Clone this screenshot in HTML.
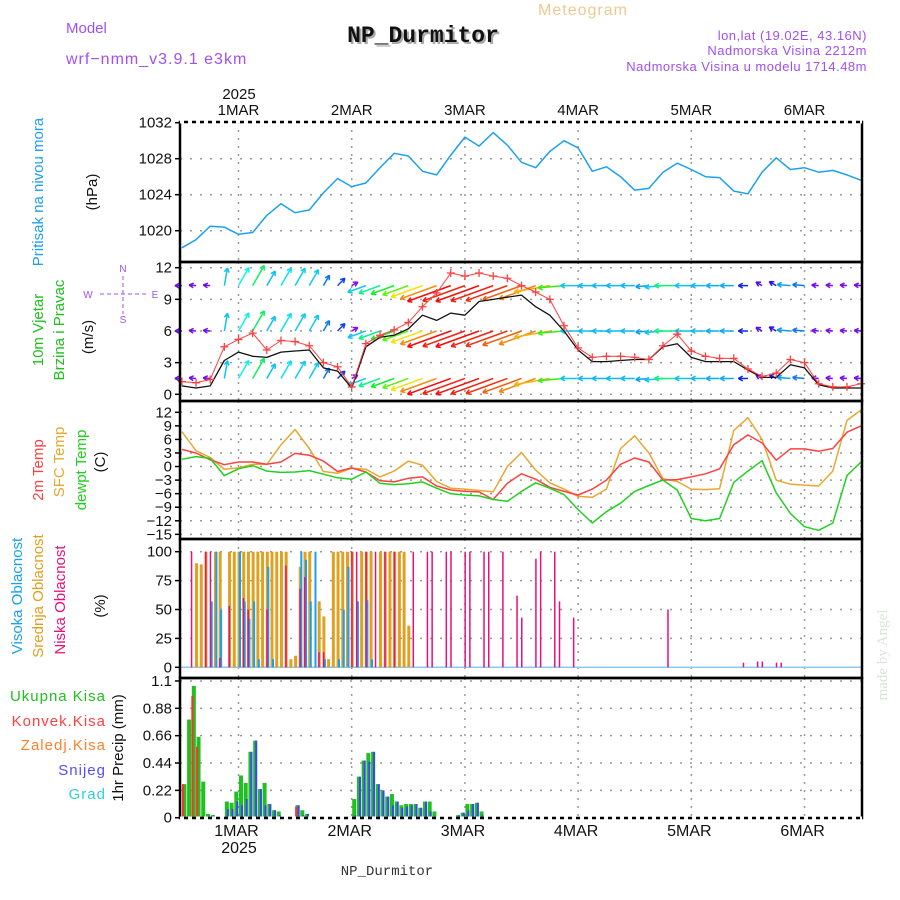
<!DOCTYPE html>
<html><head><meta charset="utf-8"><style>
html,body{margin:0;padding:0;background:#fff;}
svg{display:block;font-family:"Liberation Sans",sans-serif;}
</style></head><body>
<svg id="chart" width="900" height="900" viewBox="0 0 900 900" xmlns="http://www.w3.org/2000/svg">
<rect x="0" y="0" width="900" height="900" fill="#fff"/>
<text x="66" y="33" font-size="15" fill="#a050f0">Model</text>
<text x="66" y="64" font-size="16" fill="#a050f0" letter-spacing="1">wrf−nmm_v3.9.1 e3km</text>
<text x="425" y="44" font-size="23" font-weight="bold" font-family="Liberation Mono, monospace" fill="#aaa" text-anchor="middle">NP_Durmitor</text>
<text x="423" y="42" font-size="23" font-weight="bold" font-family="Liberation Mono, monospace" fill="#111" text-anchor="middle">NP_Durmitor</text>
<text x="583" y="15" font-size="16" fill="#f0c890" text-anchor="middle" letter-spacing="1">Meteogram</text>
<text x="867" y="40" font-size="13" fill="#a050f0" text-anchor="end" letter-spacing="0.5">lon,lat (19.02E, 43.16N)</text>
<text x="867" y="55" font-size="13" fill="#a050f0" text-anchor="end" letter-spacing="0.5">Nadmorska Visina 2212m</text>
<text x="867" y="71" font-size="13" fill="#a050f0" text-anchor="end" letter-spacing="0.5">Nadmorska Visina u modelu 1714.48m</text>
<text x="239" y="99" font-size="15" text-anchor="middle" fill="#111">2025</text>
<text x="239" y="853" font-size="16" text-anchor="middle" fill="#111">2025</text>
<text x="387" y="875" font-size="14" font-family="Liberation Mono, monospace" text-anchor="middle" fill="#333">NP_Durmitor</text>
<text transform="translate(887,655) rotate(-90)" font-size="15" font-family="Liberation Serif, serif" fill="#d8e4d8" text-anchor="middle">made by Angel</text>

<text transform="translate(43,192) rotate(-90)" font-size="15" fill="#1ea0f0" text-anchor="middle">Pritisak na nivou mora</text>
<text transform="translate(97,192) rotate(-90)" font-size="15" fill="#111" text-anchor="middle">(hPa)</text>
<text transform="translate(43,330) rotate(-90)" font-size="15" fill="#20c020" text-anchor="middle">10m Vjetar</text>
<text transform="translate(64,330) rotate(-90)" font-size="15" fill="#20c020" text-anchor="middle">Brzina i Pravac</text>
<text transform="translate(93,337) rotate(-90)" font-size="15" fill="#111" text-anchor="middle">(m/s)</text>
<g fill="#a050f0" font-size="10" text-anchor="middle">
<text x="123" y="272">N</text><text x="123" y="323">S</text><text x="88" y="298">W</text><text x="155" y="298">E</text>
<line x1="123" y1="276" x2="123" y2="314" stroke="#a050f0" stroke-dasharray="4,3"/>
<line x1="100" y1="294" x2="146" y2="294" stroke="#a050f0" stroke-dasharray="4,3"/>
</g>
<text transform="translate(43,470) rotate(-90)" font-size="15" fill="#ff4040" text-anchor="middle">2m Temp</text>
<text transform="translate(64,462) rotate(-90)" font-size="15" fill="#e8a830" text-anchor="middle">SFC Temp</text>
<text transform="translate(86,470) rotate(-90)" font-size="15" fill="#20d020" text-anchor="middle">dewpt Temp</text>
<text transform="translate(105,462) rotate(-90)" font-size="15" fill="#111" text-anchor="middle">(C)</text>
<text transform="translate(22,596) rotate(-90)" font-size="15" fill="#1a9ff0" text-anchor="middle">Visoka Oblacnost</text>
<text transform="translate(43,596) rotate(-90)" font-size="15" fill="#e0a020" text-anchor="middle">Srednja Oblacnost</text>
<text transform="translate(65,600) rotate(-90)" font-size="15" fill="#e8107a" text-anchor="middle">Niska Oblacnost</text>
<text transform="translate(105,606) rotate(-90)" font-size="15" fill="#111" text-anchor="middle">(%)</text>
<g font-size="15" text-anchor="end" letter-spacing="1">
<text x="106" y="701" fill="#20c020">Ukupna Kisa</text>
<text x="106" y="726" fill="#ff4040">Konvek.Kisa</text>
<text x="106" y="750" fill="#ff8030">Zaledj.Kisa</text>
<text x="106" y="775" fill="#5050ff">Snijeg</text>
<text x="106" y="799" fill="#30d0d0">Grad</text>
</g>
<text transform="translate(123,748) rotate(-90)" font-size="15" fill="#111" text-anchor="middle">1hr Precip (mm)</text>
<g id="plot"></g>
</svg>
<script>
// ---------- data ----------
const hours3 = [-12,-9,-6,-3,0,3,6,9,12,15,18,21,24,27,30,33,36,39,42,45,48,51,54,57,60,63,66,69,72,75,78,81,84,87,90,93,96,99,102,105,108,111,114,117,120,123,126,129,132];
const pressure = [1018.1,1019,1020.5,1020.4,1019.6,1019.8,1021.7,1023,1022,1022.3,1024.2,1025.8,1024.9,1025.3,1027,1028.6,1028.3,1026.6,1026.2,1028.4,1030.4,1029.4,1030.9,1029.5,1027.6,1027,1028.8,1030,1029.2,1026.6,1027.1,1026,1024.5,1024.7,1026.5,1027.5,1026.8,1026,1025.9,1024.4,1024.1,1026.5,1028.1,1026.8,1027,1026.5,1026.7,1026.2,1025.6];
const windSpeed = [1.2,1.1,1.4,4.5,5.2,5.8,4.2,5.1,5.0,4.6,3.0,2.6,0.7,4.8,5.6,6.1,6.8,8.3,9.6,11.5,11.2,11.5,11.2,11.0,10.3,9.7,9.0,6.5,4.4,3.5,3.6,3.6,3.5,3.3,4.6,5.7,4.1,3.6,3.4,3.4,2.4,1.7,2.0,3.3,3.0,1.0,0.7,0.7,1.0];
const windMean = [0.8,0.6,0.8,3.2,4.0,3.6,3.5,4.0,4.1,4.2,2.5,2.2,0.6,4.5,5.4,5.6,6.2,7.5,7.0,7.7,7.5,8.8,9.0,9.2,9.4,8.3,7.5,6.0,4.2,3.1,3.1,3.2,3.3,3.3,4.5,4.8,3.5,3.1,3.1,3.1,2.3,1.6,1.6,2.8,2.5,0.9,0.6,0.6,0.6];
const windDirTo = [270,275,275,10,30,30,30,30,30,30,30,45,60,250,250,250,250,250,250,250,250,250,250,250,250,250,260,265,270,270,270,270,270,265,265,270,270,270,270,270,270,300,300,275,275,275,275,275,275];
const temp2m = [3.8,3.0,1.5,0.4,1.0,1.0,0.5,1.0,2.9,2.5,1.2,-1.1,-0.3,-1.2,-3.1,-3.4,-2.6,-2.3,-4.3,-5.2,-5.5,-5.6,-7.3,-3.7,-1.6,-2.8,-4.6,-5.5,-6.3,-5.0,-3.0,0.5,1.9,1.0,-3.0,-2.9,-2.3,-1.6,-0.5,4.8,7.0,5.2,1.4,3.9,3.9,3.4,4.0,7.6,9.0];
const tempSfc = [7.7,3.5,2.0,-0.6,-0.3,0.5,0.5,4.8,8.2,4.0,-1.1,-1.5,-0.4,-0.6,-2.3,-1.0,1.2,0.3,-3.3,-4.8,-5.0,-5.3,-5.6,0.0,3.1,-0.8,-3.6,-5.0,-6.6,-6.8,-5.0,4.0,6.8,3.0,-2.7,-3.3,-5.0,-5.1,-4.9,8.0,10.8,6.0,-3.0,-3.9,-4.1,-4.3,-1.0,10.2,12.5];
const dewpoint = [1.6,2.2,1.8,-2.0,-0.5,0.2,-1.0,-1.3,-1.2,-0.9,-1.7,-2.5,-2.8,-1.2,-3.7,-4.0,-3.8,-3.4,-4.8,-6.0,-6.3,-6.5,-7.3,-7.7,-5.5,-3.6,-4.8,-6.2,-9.5,-12.5,-10.0,-8.1,-5.5,-4.2,-3.0,-5.2,-11.5,-12.0,-11.5,-3.5,-1.0,1.3,-5.8,-10.4,-13.3,-14.1,-12.5,-2.0,1.0];
const lowCloudHours = [-10,-7,-6,-4,-2,1,2,6,10,13,14,17,18,24,25,27,29,31,33,37,40,41,44,45,48,49,52,53,56,59,60,63,64,67,68,71,91,107,110,111,114,115];
const lowCloudVals = [100,100,100,8,53,60,50,50,88,68,78,13,13,100,100,100,100,100,100,100,100,100,100,100,100,100,100,100,100,62,43,94,100,100,57,43,50,4,5,5,4,4];
const midCloudHours = [-9,-8,-7,-5,-4,-2,-1,0,1,2,3,4,5,6,7,8,9,10,11,12,13,14,15,17,18,19,20,21,22,23,24,26,27,28,30,31,32,33,34,35,36];
const midCloudVals = [90,89,100,100,100,100,100,100,100,100,100,100,100,100,100,100,100,100,7,10,87,100,100,57,44,7,100,100,100,100,100,100,100,100,100,100,100,100,100,100,36];
const highCloudHours = [-6,-5,-4,0,1,2,3,4,6,7,13,14,15,16,18,21,22,23,25,27,28];
const highCloudVals = [57,100,50,100,57,42,57,7,87,7,100,93,57,100,7,7,50,87,57,58,7];
const precipHours = [-12,-11,-10,-9,-8,-7,-6,-3,-2,-1,0,1,2,3,4,5,6,7,8,12,13,14,15,23,24,25,26,27,28,29,30,31,32,33,34,35,36,37,38,39,40,41,46,47,48,49,50,51,92];
const precipTotal = [0.27,0.79,1.06,0.65,0.29,0.03,0.02,0.13,0.12,0.21,0.34,0.28,0.53,0.62,0.23,0.28,0.11,0.06,0.05,0.10,0.06,0.03,0.01,0.01,0.15,0.33,0.46,0.52,0.53,0.27,0.22,0.17,0.19,0.13,0.10,0.11,0.11,0.11,0.08,0.13,0.13,0.05,0.02,0.04,0.11,0.11,0.12,0.05,0.01];
const precipConv = [0.27,0,0.98,0.57,0,0,0,0,0,0,0,0,0,0,0,0,0,0,0,0.09,0,0,0,0,0,0,0,0,0,0,0,0,0,0,0,0,0,0,0,0,0,0,0,0,0,0,0,0,0];
const precipSnow = [0,0,0,0,0,0,0.02,0.07,0.07,0.13,0.10,0.15,0.53,0.62,0.23,0.10,0.11,0.06,0.02,0.10,0.02,0.03,0.01,0,0.02,0.33,0.46,0.45,0.53,0.27,0.22,0.17,0.10,0.13,0.08,0.09,0.10,0.11,0.08,0.13,0.05,0.01,0.02,0.04,0.06,0.11,0.12,0.02,0];
const dayHours = [0,24,48,72,96,120];
const dayLabels = ["1MAR","2MAR","3MAR","4MAR","5MAR","6MAR"];
const pTicks = [1020,1024,1028,1032];
const wTicks = [0,3,6,9,12];
const tTicks = [-15,-12,-9,-6,-3,0,3,6,9,12];
const cTicks = [0,25,50,75,100];
const rTicks = [0,0.22,0.44,0.66,0.88,1.1];
const rTickLabels = ["0","0.22","0.44","0.66","0.88","1.1"];
const windRowLevels = [10.3,6.0,1.5];

// ---------- axes ----------
const L=180,R=862;
const X = h => 238.5 + h*4.717;
const yP = v => 122.7 + (1032-v)*9;
const yW = v => 394.3 - v*10.55;
const yT = v => 412.3 + (12-v)*4.52;
const yC = v => 667.3 - v*1.156;
const yR = v => 817.7 - v*124.3;
const panels = [[122,262],[262,401],[401,539],[539,678],[678,818]];

const NS="http://www.w3.org/2000/svg";
const plot=document.getElementById('plot');
function mk(tag,attrs,parent){const e=document.createElementNS(NS,tag);for(const k in attrs)e.setAttribute(k,attrs[k]);(parent||plot).appendChild(e);return e;}

// grid
const grid=mk('g',{});


panels.forEach(p=>{dayHours.forEach(h=>{const l=mk('line',{x1:X(h),x2:X(h),y1:p[0],y2:p[1],stroke:'#999','stroke-width':1.5,'stroke-dasharray':'2,6'},grid);

});});
function hgrid(ticks,yf,name){ticks.forEach(v=>{const l=mk('line',{x1:L,x2:R,y1:yf(v),y2:yf(v),stroke:'#999','stroke-width':1.5,'stroke-dasharray':'2,8'},grid);

});}
hgrid(pTicks,yP,'pressure-gridline');hgrid(wTicks,yW,'wind-gridline');hgrid(tTicks,yT,'temp-gridline');hgrid(cTicks,yC,'cloud-gridline');hgrid(rTicks,yR,'precip-gridline');

function yticks(ticks,labels,yf,name){ticks.forEach((v,i)=>{const t=mk('text',{x:172,y:yf(v)+5,'font-size':15,'text-anchor':'end',fill:'#111'});t.textContent=labels?labels[i]:String(v).replace('-','−');


mk('line',{x1:175,x2:L,y1:yf(v),y2:yf(v),stroke:'#000','stroke-width':1.5});});}
yticks(pTicks,null,yP,'pressure-tick');yticks(wTicks,null,yW,'wind-tick');yticks(tTicks,null,yT,'temp-tick');yticks(cTicks,null,yC,'cloud-tick');yticks(rTicks,rTickLabels,yR,'precip-tick');

dayHours.forEach((h,i)=>{
const t=mk('text',{x:X(h),y:115,'font-size':15,'text-anchor':'middle',fill:'#111'});t.textContent=dayLabels[i];


const b=mk('text',{x:X(h)-2,y:836,'font-size':16,'text-anchor':'middle',fill:'#111'});b.textContent=dayLabels[i];


});

function line(xs,ys,color,w,name){const d=xs.map((x,i)=>(i?'L':'M')+x.toFixed(1)+','+ys[i].toFixed(1)).join('');const p=mk('path',{d:d,fill:'none',stroke:color,'stroke-width':w,'stroke-linejoin':'round'});

return p;}

// pressure
line(hours3.map(X),pressure.map(yP),'#1ea0f0',1.5,'pressure-line');

// wind arrows
function windColor(s){const stops=[[0,275],[1.5,265],[2.5,230],[3.5,195],[5,190],[6,130],[7.5,70],[9.5,35],[11.5,0]];
for(let i=1;i<stops.length;i++){if(s<=stops[i][0]){const a=stops[i-1],b=stops[i];const f=(s-a[0])/(b[0]-a[0]);return 'hsl('+(a[1]+(b[1]-a[1])*f).toFixed(0)+',90%,50%)';}}return 'hsl(0,95%,50%)';}
windRowLevels.forEach(lv=>{hours3.forEach((h,i)=>{const s=windSpeed[i];const a=windDirTo[i]*Math.PI/180;const len=Math.max(7,s*4);
const x0=X(h),y0=yW(lv);const x1=x0+Math.sin(a)*len,y1=y0-Math.cos(a)*len;const c=windColor(s);
const g=mk('g',{stroke:c,'stroke-width':1.5,fill:'none'});


mk('line',{x1:x0,y1:y0,x2:x1,y2:y1},g);
const ang=Math.atan2(y1-y0,x1-x0);[0.5,-0.5].forEach(o=>{mk('line',{x1:x1,y1:y1,x2:x1-5*Math.cos(ang+o),y2:y1-5*Math.sin(ang+o)},g);});
});});

// wind speed lines
line(hours3.map(X),windMean.map(yW),'#111',1.3,'wind-mean-line');
line(hours3.map(X),windSpeed.map(yW),'#ff4040',1,'wind-gust-line');
hours3.forEach((h,i)=>{const x=X(h),y=yW(windSpeed[i]);const g=mk('path',{d:`M${x-4},${y}H${x+4}M${x},${y-4}V${y+4}`,stroke:'#ff4040','stroke-width':1.3});

});

// temperature
line(hours3.map(X),tempSfc.map(yT),'#e8a830',1.5,'sfc-temp-line');
line(hours3.map(X),temp2m.map(yT),'#ff4040',1.5,'temp-2m-line');
line(hours3.map(X),dewpoint.map(yT),'#20d020',1.5,'dewpoint-line');

// cloud
const base=mk('line',{x1:L,x2:R,y1:yC(0),y2:yC(0),stroke:'#8cc8f0','stroke-width':1.5});


midCloudHours.forEach((h,i)=>{const r=mk('rect',{x:X(h)-1,y:yC(midCloudVals[i]),width:3,height:yC(0)-yC(midCloudVals[i]),fill:'#e0a020'});

});
highCloudHours.forEach((h,i)=>{const r=mk('rect',{x:X(h)+0.5,y:yC(highCloudVals[i]),width:2,height:yC(0)-yC(highCloudVals[i]),fill:'#1a9ff0'});

});
lowCloudHours.forEach((h,i)=>{const r=mk('rect',{x:X(h)-0.5,y:yC(lowCloudVals[i]),width:1.5,height:yC(0)-yC(lowCloudVals[i]),fill:'#e8107a'});

});

// precipitation
precipHours.forEach((h,i)=>{const x=X(h)+0.5;
const t=mk('rect',{x:x,y:yR(precipTotal[i]),width:4,height:yR(0)-yR(precipTotal[i]),fill:'#20c020'});


if(precipSnow[i]>0){const s=mk('rect',{x:x+2,y:yR(precipSnow[i]),width:2,height:yR(0)-yR(precipSnow[i]),fill:'#4040ff'});

}
if(precipConv[i]>0){const c=mk('rect',{x:x-0.5,y:yR(precipConv[i]),width:2,height:yR(0)-yR(precipConv[i]),fill:'#ff3030'});

}
});

// frames
panels.forEach((p,i)=>{const r=mk('rect',{x:L,y:p[0],width:R-L,height:p[1]-p[0],fill:'none',stroke:'#000','stroke-width':2.5});

});
const tb=mk('line',{x1:L,x2:R,y1:122,y2:122,stroke:'#fff','stroke-width':3,'stroke-dasharray':'4,4'});


const bb=mk('line',{x1:L,x2:R,y1:818,y2:818,stroke:'#fff','stroke-width':3,'stroke-dasharray':'4,4'});


</script>
</body></html>
